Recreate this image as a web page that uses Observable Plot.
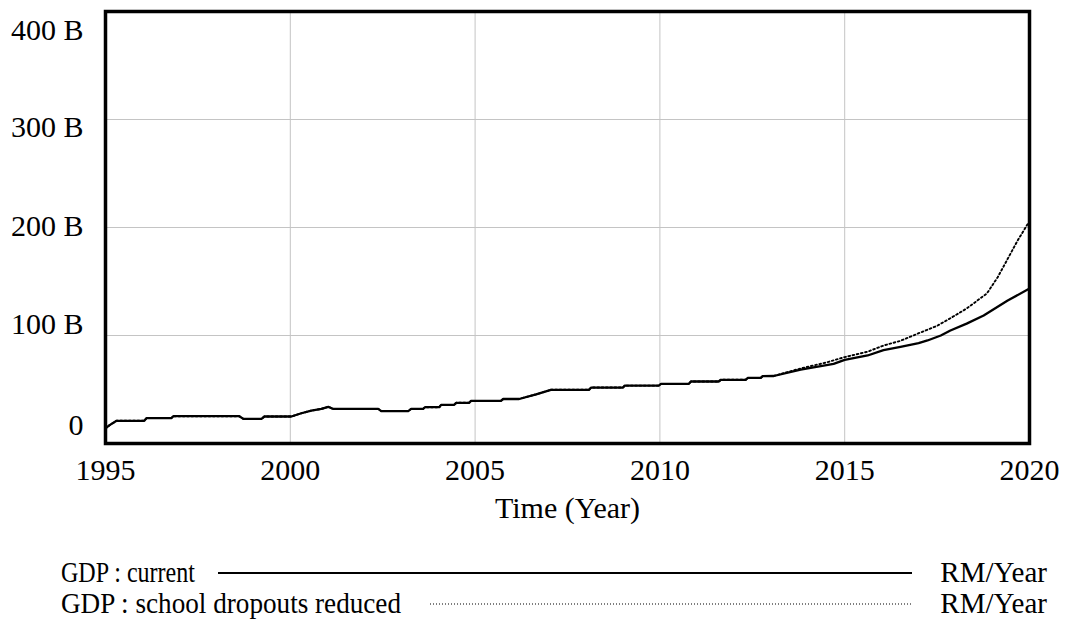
<!DOCTYPE html>
<html>
<head>
<meta charset="utf-8">
<script src="https://cdn.jsdelivr.net/npm/d3@7"></script>
<script src="https://cdn.jsdelivr.net/npm/@observablehq/plot@0.6"></script>
<style>
  html, body { margin: 0; padding: 0; background: white; }
  #wrap { width: 1066px; height: 623px; position: relative; font-family: "Liberation Serif", "Times New Roman", serif; }
  #legend { display: block; }
</style>
</head>
<body>
<div id="wrap"></div>
<script>
// ---- data (values in billions of RM/Year) ----
const currentYears = [1995.0, 1995.11, 1995.3, 1996.05, 1996.11, 1996.78, 1996.84, 1998.62, 1998.73, 1999.22, 1999.3, 2000.03, 2000.3, 2000.57, 2000.84, 2001.03, 2001.16, 2002.38, 2002.46, 2003.19, 2003.27, 2003.59, 2003.65, 2004.03, 2004.08, 2004.43, 2004.49, 2004.84, 2004.89, 2005.7, 2005.76, 2006.19, 2006.65, 2007.05, 2008.08, 2008.14, 2009.0, 2009.05, 2009.97, 2010.03, 2010.78, 2010.84, 2011.59, 2011.65, 2012.32, 2012.38, 2012.73, 2012.78, 2013.08, 2013.81, 2014.7, 2015.0, 2015.62, 2016.05, 2016.51, 2017.0, 2017.24, 2017.6, 2017.86, 2018.3, 2018.76, 2019.41, 2020.0];
const currentValues = [14, 17, 21, 21, 23.5, 23.5, 25.3, 25.3, 22.8, 22.8, 25, 25, 28, 30.5, 32, 34, 32, 32, 30, 30, 32, 32, 33.6, 33.6, 35.8, 35.8, 37.7, 37.7, 39.5, 39.5, 41.2, 41.2, 45.5, 49.7, 49.7, 51.8, 51.8, 53.6, 53.6, 55.2, 55.2, 57.4, 57.4, 59, 59, 60.8, 60.8, 62.3, 62.5, 68.5, 73.8, 77.5, 81.5, 86.5, 89.5, 93, 95.4, 100, 104.6, 111, 118.5, 132.4, 143.5];

const reducedYears = [1995.0, 1995.11, 1995.3, 1996.05, 1996.11, 1996.78, 1996.84, 1998.62, 1998.73, 1999.22, 1999.3, 2000.03, 2000.3, 2000.57, 2000.84, 2001.03, 2001.16, 2002.38, 2002.46, 2003.19, 2003.27, 2003.59, 2003.65, 2004.03, 2004.08, 2004.43, 2004.49, 2004.84, 2004.89, 2005.7, 2005.76, 2006.19, 2006.65, 2007.05, 2008.08, 2008.14, 2009.0, 2009.05, 2009.97, 2010.03, 2010.78, 2010.84, 2011.59, 2011.65, 2012.32, 2012.38, 2012.73, 2012.78, 2013.08, 2013.81, 2014.5, 2015.0, 2015.62, 2016.05, 2016.5, 2016.96, 2017.5, 2017.86, 2018.3, 2018.85, 2019.14, 2019.41, 2019.68, 2020.0];
const reducedValues = [14, 17, 21, 21, 23.5, 23.5, 25.3, 25.3, 22.8, 22.8, 25, 25, 28, 30.5, 32, 34, 32, 32, 30, 30, 32, 32, 33.6, 33.6, 35.8, 35.8, 37.7, 37.7, 39.5, 39.5, 41.2, 41.2, 45.5, 49.7, 49.7, 51.8, 51.8, 53.6, 53.6, 55.2, 55.2, 57.4, 57.4, 59, 59, 60.8, 60.8, 62.3, 62.6, 69.5, 75, 80, 85, 90.7, 95, 101.5, 109, 116, 125, 139, 154, 171, 188, 206];

const xTicks = [1995, 2000, 2005, 2010, 2015, 2020];
const xGrid = [2000, 2005, 2010, 2015];
const yTicks = [0, 100e9, 200e9, 300e9, 400e9];
const yTickLabels = ["0", "100 B", "200 B", "300 B", "400 B"];
const yGrid = [100e9, 200e9, 300e9];
const seriesNames = ["GDP : current", "GDP : school dropouts reduced"];
const unitLabel = "RM/Year";
const xLabel = "Time (Year)";

// ---- build tables ----
const currentData = currentYears.map((y, i) => ({year: y, value: currentValues[i] * 1e9}));
const reducedData = reducedYears.map((y, i) => ({year: y, value: reducedValues[i] * 1e9}));

// label vertical nudges (Vensim-style spreading of labels inside the frame)
const yLabelDy = [-18, -11.5, -1.5, 8, 18.5];

const font = "'Liberation Serif', 'Times New Roman', serif";

const chart = Plot.plot({
  width: 1066,
  height: 535,
  marginLeft: 105,
  marginRight: 37,
  marginTop: 11,
  marginBottom: 92,
  style: {fontFamily: font, fontSize: "30px", color: "black", background: "white"},
  x: {domain: [1995, 2020]},
  y: {domain: [0, 400e9]},
  marks: [
    Plot.gridX(xGrid, {stroke: "#c4c4c4", strokeOpacity: 1, strokeWidth: 1}),
    Plot.gridY(yGrid, {stroke: "#c4c4c4", strokeOpacity: 1, strokeWidth: 1}),
    Plot.line(currentData, {x: "year", y: "value", stroke: "black", strokeWidth: 2.3}),
    Plot.line(reducedData, {x: "year", y: "value", stroke: "black", strokeWidth: 1.9, strokeDasharray: "1.7,2.6"}),
    Plot.axisX(xTicks, {tickSize: 0, tickPadding: 15, tickFormat: d => String(d), label: null, fontSize: 30}),
    ...yTicks.map((t, i) => Plot.axisY([t], {tickSize: 0, tickPadding: 22, dy: yLabelDy[i], tickFormat: () => yTickLabels[i], label: null, fontSize: 30})),
    Plot.text([xLabel], {frameAnchor: "bottom", dy: 53, lineAnchor: "top", fontSize: 30, fill: "black"}),
    Plot.frame({stroke: "black", strokeWidth: 3.5})
  ]
});

const wrap = document.getElementById("wrap");
wrap.appendChild(chart);

// ---- legend below the chart ----
const lg = d3.create("svg")
  .attr("id", "legend")
  .attr("width", 1066)
  .attr("height", 88)
  .style("font-family", font)
  .style("font-size", "29px");

const rows = [
  {name: seriesNames[0], dash: null, width: 2, textLen: 134, lineStart: 218, baseline: 47},
  {name: seriesNames[1], dash: "1,2", width: 1.2, textLen: 340, lineStart: 430, baseline: 78}
];
rows.forEach(r => {
  lg.append("text").attr("x", 61).attr("y", r.baseline).attr("fill", "black")
    .attr("textLength", r.textLen).attr("lengthAdjust", "spacingAndGlyphs").text(r.name);
  lg.append("line")
    .attr("x1", r.lineStart).attr("x2", 912)
    .attr("y1", r.baseline - 9).attr("y2", r.baseline - 9)
    .attr("stroke", "black").attr("stroke-width", r.width)
    .attr("stroke-dasharray", r.dash);
  lg.append("text").attr("x", 1047).attr("y", r.baseline).attr("text-anchor", "end").attr("fill", "black").text(unitLabel);
});
wrap.appendChild(lg.node());
</script>
</body>
</html>
